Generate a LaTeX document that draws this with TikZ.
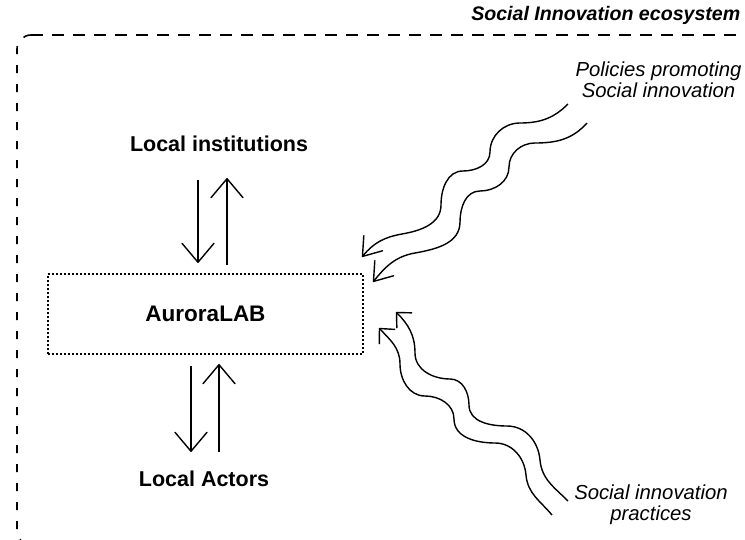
\documentclass[tikz,border=0pt]{standalone}
\usepackage{fontspec}
\setmainfont{Liberation Sans}
\usetikzlibrary{arrows.meta}
\begin{document}
\begin{tikzpicture}[x=1pt,y=1pt,line width=1.4pt,
  bigarr/.style={-{Straight Barb[length=19pt,width=32pt,round]}},
  wavetop/.style={-{Straight Barb[length=17pt,width=24pt,round]}},
  wavebot/.style={-{Straight Barb[length=11pt,width=21pt,round]}},
  lbl/.style={font=\fontsize{21.5}{24}\selectfont\bfseries,inner sep=0pt},
  note/.style={font=\fontsize{20.3}{21}\selectfont\itshape,align=center,inner sep=0pt},
  labbox/.style={draw,line width=1.6pt,dash pattern=on 1.6pt off 2.4pt,
    minimum width=315pt,minimum height=80pt,inner sep=0pt,
    font=\fontsize{22.5}{25}\selectfont\bfseries}]
\fill[white] (0,0) rectangle (745,539);
\useasboundingbox (0,0) rectangle (745,539);

% ecosystem border
\draw[line width=1.6pt,dash pattern=on 12pt off 9pt] (31,504) -- (770,504);
\draw[line width=1.6pt,dash pattern=on 8pt off 11pt] (31,504)
  arc[start angle=90,end angle=180,radius=14] -- (17,8)
  arc[start angle=180,end angle=270,radius=14] -- (60,-6);
\node[font=\fontsize{19.6}{22}\selectfont\bfseries\itshape,inner sep=0pt,anchor=base east]
  (title) at (741,518) {Social Innovation ecosystem};

% nodes
\node[lbl,anchor=base] (inst) at (219,387) {Local institutions};
\node[labbox] (lab) at (205.5,225) {AuroraLAB};
\node[lbl,anchor=base] (act) at (204,53) {Local Actors};
\node[note] (pol) at (658.5,459.5) {Policies promoting\\Social innovation};
\node[note] (prac) at (651,34.2) {Social innovation\\practices};

% straight arrows
\coordinate (a1s) at (198,359); \coordinate (a1e) at (198,276);
\coordinate (a2s) at (227,274); \coordinate (a2e) at (227,361);
\coordinate (a3s) at (191,173); \coordinate (a3e) at (191,87);
\coordinate (a4s) at (219,87);  \coordinate (a4e) at (219,175);
\draw[bigarr] (a1s) -- (a1e);
\draw[bigarr] (a2s) -- (a2e);
\draw[bigarr] (a3s) -- (a3e);
\draw[bigarr] (a4s) -- (a4e);

% wavy arrows from policies
\coordinate (p1) at (568,435); \coordinate (p1t) at (362,282);
\coordinate (p2) at (587,416); \coordinate (p2t) at (373,257);
\draw[wavetop] (p1) to[out=225,in=0] (520,416) to[out=180,in=90] (490,387)
  to[out=270,in=0] (463,368) to[out=180,in=90] (441,334)
  to[out=270,in=10] (402,305) to[out=190,in=51] (p1t);
\draw[wavetop] (p2) to[out=228,in=0] (535,396) to[out=180,in=90] (509,372)
  to[out=270,in=0] (480,348) to[out=180,in=90] (460,317)
  to[out=270,in=10] (415,286) to[out=190,in=51] (p2t);

% wavy arrows from practices
\coordinate (q1) at (568,38); \coordinate (q1t) at (396,227);
\coordinate (q2) at (552,24); \coordinate (q2t) at (379,211);
\draw[wavebot] (q1) to[out=135,in=275] (540,79) to[out=95,in=0] (507,113)
  to[out=180,in=270] (469,134) to[out=90,in=0] (450,160)
  to[out=180,in=270] (415,186) to[out=90,in=315] (q1t);
\draw[wavebot] (q2) to[out=130,in=275] (526,64) to[out=95,in=0] (495,96)
  to[out=180,in=270] (454,120) to[out=90,in=0] (425,143)
  to[out=180,in=270] (400,175) to[out=90,in=313] (q2t);
\end{tikzpicture}
\end{document}
